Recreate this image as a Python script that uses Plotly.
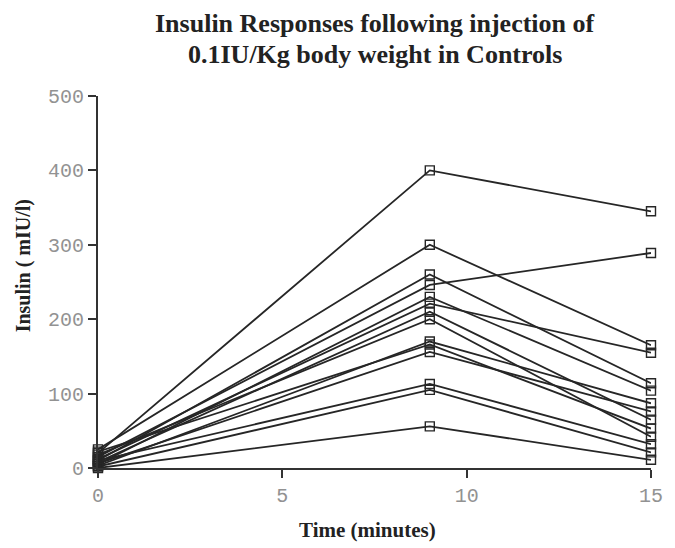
import plotly.graph_objects as go

times = [0, 9, 15]
# insulin (mIU/l) per control subject at 0, 9 and 15 minutes
baseline = [20, 25, 10, 15, 5, 12, 8, 18, 3, 22, 6, 10, 2, 0]
peak_9 = [400, 300, 260, 246, 230, 221, 210, 200, 170, 166, 156, 113, 105, 56]
value_15 = [345, 165, 114, 289, 104, 155, 65, 42, 87, 53, 76, 32, 21, 11]

x_ticks = [0, 5, 10, 15]
y_ticks = [0, 100, 200, 300, 400, 500]

title_lines = ["Insulin Responses following injection of", "0.1IU/Kg body weight in Controls"]
x_title = "Time (minutes)"
y_title = "Insulin ( mIU/l)"

fig = go.Figure()
for b, p, e in zip(baseline, peak_9, value_15):
    fig.add_trace(go.Scatter(
        x=times, y=[b, p, e], mode="lines+markers",
        line=dict(color="#262626", width=1.8),
        marker=dict(symbol="square-open", size=9, color="#262626", line=dict(width=1.4)),
        cliponaxis=False, showlegend=False, hoverinfo="x+y"))

serif = "Liberation Serif, Times New Roman, serif"
axis_font = dict(family="Liberation Mono, Courier New, monospace", size=20, color="#929292")
H = 548
top, bottom = 96, 80
plot_h = H - top - bottom


def ypaper(px):
    return (H - bottom - px) / plot_h


fig.update_layout(
    width=675, height=H,
    margin=dict(l=98, r=14, t=top, b=bottom),
    paper_bgcolor="white", plot_bgcolor="white",
    xaxis=dict(range=[0, 15], tickvals=x_ticks, ticks="outside", ticklen=8, tickwidth=2,
               tickcolor="#333", showline=True, linecolor="#333", linewidth=2,
               showgrid=False, zeroline=False, tickfont=axis_font),
    yaxis=dict(range=[0, 500], tickvals=y_ticks, ticks="outside", ticklen=8, tickwidth=2,
               tickcolor="#333", showline=True, linecolor="#333", linewidth=2,
               showgrid=False, zeroline=False, tickfont=axis_font),
    annotations=[
        dict(text="<b>%s</b>" % title_lines[0], xref="paper", yref="paper", x=0.5, y=ypaper(24),
             xanchor="center", yanchor="middle", showarrow=False,
             font=dict(family=serif, size=26, color="#222")),
        dict(text="<b>%s</b>" % title_lines[1], xref="paper", yref="paper", x=0.5, y=ypaper(54),
             xanchor="center", yanchor="middle", showarrow=False,
             font=dict(family=serif, size=26, color="#222")),
        dict(text="<b>%s</b>" % x_title, xref="paper", yref="paper", x=0.488, y=ypaper(530),
             xanchor="center", yanchor="middle", showarrow=False,
             font=dict(family=serif, size=21, color="#222")),
        dict(text="<b>%s</b>" % y_title, xref="paper", yref="paper", x=(22 - 98) / 563, y=ypaper(266),
             xanchor="center", yanchor="middle", textangle=-90, showarrow=False,
             font=dict(family=serif, size=20, color="#222")),
    ],
)
fig.write_html("out.html")
